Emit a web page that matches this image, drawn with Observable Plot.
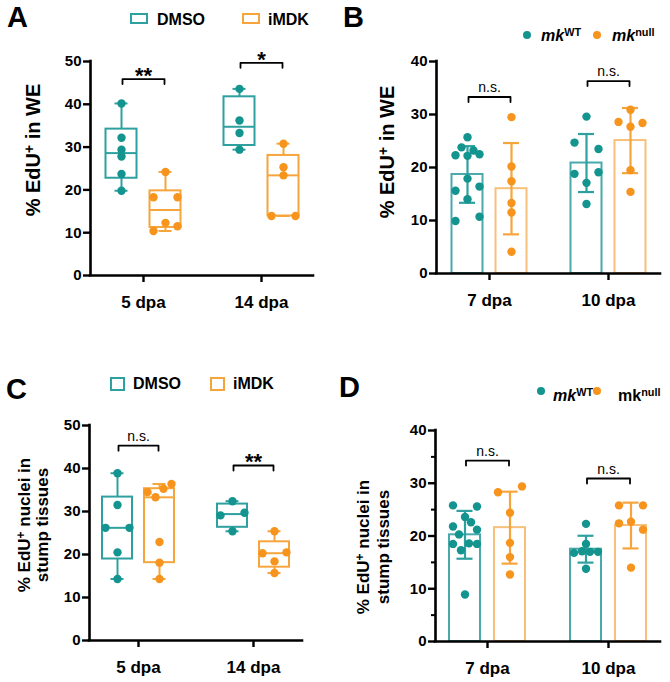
<!DOCTYPE html>
<html><head><meta charset="utf-8">
<script src="https://cdn.jsdelivr.net/npm/d3@7"></script>
<script src="https://cdn.jsdelivr.net/npm/@observablehq/plot@0.6"></script>
<style>
body{margin:0;background:#fff;}
#fig{position:relative;width:670px;height:682px;background:#fff;font-family:"Liberation Sans",Arial,sans-serif;color:#000;overflow:hidden}
.abs{position:absolute;white-space:nowrap}
.letter{font-size:29px;font-weight:bold;line-height:29px}
.ytitle{font-weight:bold;text-align:center;transform:translate(-50%,-50%) rotate(-90deg);}
.ytitle sup{font-size:0.7em;line-height:0;vertical-align:0.45em}
.leg{font-weight:bold;font-size:16px;line-height:16px}
.leg sup{font-size:0.68em;line-height:0;vertical-align:0.5em}
.sq{position:absolute;box-sizing:border-box;border:2px solid}
.dotk{position:absolute;width:8px;height:8px;border-radius:50%}
</style></head><body><div id="fig"></div>
<script>
// ---------- data ----------
const groupsAC = ["5 dpa", "14 dpa"];
const groupsBD = ["7 dpa", "10 dpa"];
const seriesAC = ["DMSO", "iMDK"];
const seriesBD = ["mkWT", "mknull"];
const yTicksAC = [0, 10, 20, 30, 40, 50];
const yTicksBD = [0, 10, 20, 30, 40];
const minorTicksD = [5, 15, 25, 35];

// A: % EdU+ in WE (box plots)
const A_DMSO_5 = [40.2, 32.2, 29.4, 27.8, 23.7, 19.8];
const A_IMDK_5 = [24.2, 18.3, 18.3, 10.4, 12.3, 11.5];
const A_DMSO_14 = [43.6, 36.2, 33.3, 29.4];
const A_IMDK_14 = [30.8, 25.3, 23.4, 13.9, 13.9];
// B: % EdU+ in WE (mean ± SD bars)
const B_WT_7 = [25.7, 22.3, 23.8, 22.2, 23.2, 22.5, 17.9, 15.6, 16.4, 14.0, 9.9, 10.7];
const B_NULL_7 = [29.5, 20.2, 17.4, 13.3, 11.5, 4.1];
const B_WT_10 = [29.6, 24.7, 23.5, 18.8, 19.1, 17.1, 13.1];
const B_NULL_10 = [30.9, 28.6, 27.7, 28.4, 19.5, 15.4];
// C: % EdU+ nuclei in stump tissues (box plots)
const C_DMSO_5 = [38.9, 31.5, 26.2, 26.2, 20.5, 14.3];
const C_IMDK_5 = [34.5, 33.3, 35.3, 36.4, 22.9, 18.1, 14.3];
const C_DMSO_14 = [32.4, 29.1, 29.7, 25.4];
const C_IMDK_14 = [25.4, 20.3, 20.5, 18.4, 15.7];
// D: % EdU+ nuclei in stump tissues (mean ± SD bars)
const D_WT_7 = [25.8, 25.6, 21.8, 20.3, 23.6, 22.6, 21.2, 18.5, 17.3, 18.6, 18.5, 8.9];
const D_NULL_7 = [28.3, 29.4, 24.4, 18.7, 16.0, 12.7];
const D_WT_10 = [22.3, 18.5, 16.8, 17.1, 17.0, 17.0, 13.8];
const D_NULL_10 = [25.8, 25.8, 22.4, 22.7, 21.2, 14.0];

// significance brackets
const sigA = [{group: "5 dpa", y: 45.9, label: "**"}, {group: "14 dpa", y: 49.7, label: "*"}];
const sigB = [{group: "7 dpa", y: 33.3, label: "n.s."}, {group: "10 dpa", y: 36.3, label: "n.s."}];
const sigC = [{group: "5 dpa", y: 45.3, label: "n.s."}, {group: "14 dpa", y: 40.7, label: "**"}];
const sigD = [{group: "7 dpa", y: 34.3, label: "n.s."}, {group: "10 dpa", y: 30.9, label: "n.s."}];

// ---------- style ----------
const COLORS = [
  {dot: "#13948f", line: "#2fa0a0", bar: "#4aa9ab"},
  {dot: "#f7941d", line: "#f6a53c", bar: "#f7c07a"}
];

function quant(s, p) { // (n+1) quantile method
  const n = s.length, h = (n + 1) * p;
  if (h <= 1) return s[0];
  if (h >= n) return s[n - 1];
  const lo = Math.floor(h);
  return s[lo - 1] + (h - lo) * (s[lo] - s[lo - 1]);
}
function jitterPx(vals, pyu, thr = 6.5, W = 24) {
  const idx = vals.map((v, i) => i).sort((a, b) => vals[a] - vals[b]);
  const rows = []; let cur = [idx[0]];
  for (let k = 1; k < idx.length; k++) {
    const i = idx[k], p = idx[k - 1];
    if ((vals[i] - vals[p]) * pyu < thr) cur.push(i); else { rows.push(cur); cur = [i]; }
  }
  rows.push(cur);
  const off = new Array(vals.length).fill(0);
  for (const r of rows) {
    if (r.length < 2) continue;
    r.sort((a, b) => a - b);
    r.forEach((i, j) => off[i] = -W / 2 + j * W / (r.length - 1));
  }
  return off;
}

const panels = [
  {kind: "box", groups: groupsAC, values: [[A_DMSO_5, A_IMDK_5], [A_DMSO_14, A_IMDK_14]], ymax: 50, yTicks: yTicksAC, minor: null, sig: sigA,
   L: {left: 0, top: 40, w: 335, h: 290, axisL: 90, axisR: 313, tick0: 143, tick1: 261, yTop: 61, yBot: 275, off: 22, halfW: 15.5, cap: 6.5}},
  {kind: "bar", groups: groupsBD, values: [[B_WT_7, B_NULL_7], [B_WT_10, B_NULL_10]], ymax: 40, yTicks: yTicksBD, minor: null, sig: sigB,
   L: {left: 335, top: 40, w: 335, h: 290, axisL: 436, axisR: 660, tick0: 489, tick1: 608, yTop: 61, yBot: 273, off: 22, halfW: 15.5, cap: 8}},
  {kind: "box", groups: groupsAC, values: [[C_DMSO_5, C_IMDK_5], [C_DMSO_14, C_IMDK_14]], ymax: 50, yTicks: yTicksAC, minor: null, sig: sigC,
   L: {left: 0, top: 400, w: 335, h: 282, axisL: 89, axisR: 302, tick0: 138, tick1: 253, yTop: 425, yBot: 640, off: 21, halfW: 15, cap: 6.5}},
  {kind: "bar", groups: groupsBD, values: [[D_WT_7, D_NULL_7], [D_WT_10, D_NULL_10]], ymax: 40, yTicks: yTicksBD, minor: minorTicksD, sig: sigD,
   L: {left: 335, top: 400, w: 335, h: 282, axisL: 435, axisR: 660, tick0: 487, tick1: 608, yTop: 430, yBot: 641, off: 22.5, halfW: 15.5, cap: 8}}
];

const fig = document.getElementById("fig");

function buildPanel(P) {
  const L = P.L;
  const unit = L.tick1 - L.tick0;
  const ml = L.axisL - L.left, mr = L.left + L.w - L.axisR, mt = L.yTop - L.top, mb = L.top + L.h - L.yBot;
  const xDomain = [-(L.tick0 - L.axisL) / unit, 1 + (L.axisR - L.tick1) / unit];
  const pyu = (L.yBot - L.yTop) / P.ymax;
  const ux = px => px / unit, uy = px => px / pyu;
  const recs = [], dots = [], lines = [], caps = [], meds = [];
  P.groups.forEach((g, gi) => {
    [0, 1].forEach(si => {
      const vals = P.values[gi][si];
      const c = gi + ux(si === 0 ? -L.off : L.off);
      const col = COLORS[si];
      const offs = jitterPx(vals, pyu);
      vals.forEach((v, i) => dots.push({x: c + ux(offs[i]), y: v, color: col.dot}));
      if (P.kind === "box") {
        const s = vals.slice().sort(d3.ascending);
        const q1 = quant(s, .25), md = quant(s, .5), q3 = quant(s, .75), lo = s[0], hi = s[s.length - 1];
        recs.push({x1: c - ux(L.halfW), x2: c + ux(L.halfW), y1: q1, y2: q3, color: col.line});
        meds.push({x1: c - ux(L.halfW), x2: c + ux(L.halfW), y: md, color: col.line});
        lines.push({x: c, y1: lo, y2: q1, color: col.line}, {x: c, y1: q3, y2: hi, color: col.line});
        caps.push({x1: c - ux(L.cap), x2: c + ux(L.cap), y: lo, color: col.line}, {x1: c - ux(L.cap), x2: c + ux(L.cap), y: hi, color: col.line});
      } else {
        const m = d3.mean(vals), sd = d3.deviation(vals);
        recs.push({x1: c - ux(L.halfW), x2: c + ux(L.halfW), y1: 0, y2: m, color: col.bar});
        lines.push({x: c, y1: m - sd, y2: m + sd, color: col.line});
        caps.push({x1: c - ux(L.cap), x2: c + ux(L.cap), y: m - sd, color: col.line}, {x1: c - ux(L.cap), x2: c + ux(L.cap), y: m + sd, color: col.line});
      }
    });
  });
  const sigLines = [], sigText = [];
  P.sig.forEach((s, k) => {
    const gi = P.groups.indexOf(s.group);
    const xa = gi + ux(-L.off + 1), xb = gi + ux(L.off - 1), t = uy(5);
    [[xa, s.y - t], [xa, s.y], [xb, s.y], [xb, s.y - t]].forEach(([x, y]) => sigLines.push({x, y, k}));
    sigText.push({x: gi, y: s.y, label: s.label});
  });

  const marks = [];
  if (P.kind === "box") {
    marks.push(Plot.rect(recs, {x1: "x1", x2: "x2", y1: "y1", y2: "y2", fill: "none", stroke: "color", strokeWidth: 2}));
    marks.push(Plot.ruleX(lines, {x: "x", y1: "y1", y2: "y2", stroke: "color", strokeWidth: 2}));
    marks.push(Plot.ruleY(caps, {x1: "x1", x2: "x2", y: "y", stroke: "color", strokeWidth: 2}));
    marks.push(Plot.ruleY(meds, {x1: "x1", x2: "x2", y: "y", stroke: "color", strokeWidth: 2}));
  } else {
    marks.push(Plot.rect(recs, {x1: "x1", x2: "x2", y1: "y1", y2: "y2", fill: "white", stroke: "color", strokeWidth: 2}));
    marks.push(Plot.ruleX(lines, {x: "x", y1: "y1", y2: "y2", stroke: "color", strokeWidth: 2.2}));
    marks.push(Plot.ruleY(caps, {x1: "x1", x2: "x2", y: "y", stroke: "color", strokeWidth: 2.2}));
  }
  marks.push(Plot.dot(dots, {x: "x", y: "y", r: 4.2, fill: "color", stroke: "none"}));
  marks.push(Plot.line(sigLines, {x: "x", y: "y", z: "k", stroke: "black", strokeWidth: 1.8}));
  marks.push(Plot.text(sigText.filter(d => d.label.includes("*")), {x: "x", y: "y", text: "label", fontSize: 22, fontWeight: "bold", lineAnchor: "bottom", dy: 4}));
  marks.push(Plot.text(sigText.filter(d => !d.label.includes("*")), {x: "x", y: "y", text: "label", fontSize: 14, fontWeight: "normal", lineAnchor: "bottom", dy: -5}));
  // axes
  marks.push(Plot.ruleX([xDomain[0]], {stroke: "black", strokeWidth: 2.6, strokeLinecap: "square"}));
  marks.push(Plot.ruleY([0], {stroke: "black", strokeWidth: 2.6, strokeLinecap: "square"}));
  marks.push(Plot.axisY(P.yTicks, {tickSize: 7, tickPadding: 2, strokeWidth: 2.4, fontSize: 15, fontWeight: "bold", label: null}));
  if (P.minor) marks.push(Plot.axisY(P.minor, {tickSize: 4, tickPadding: 0, strokeWidth: 2, tickFormat: () => "", label: null}));
  marks.push(Plot.axisX([0, 1], {tickSize: 7, tickPadding: 13, strokeWidth: 2.4, fontSize: 17, fontWeight: "bold", tickFormat: i => P.groups[i], label: null}));

  const svg = Plot.plot({
    width: L.w, height: L.h,
    marginLeft: ml, marginRight: mr, marginTop: mt, marginBottom: mb,
    x: {type: "linear", domain: xDomain, label: null},
    y: {domain: [0, P.ymax], label: null},
    color: {type: "identity"},
    style: {fontFamily: '"Liberation Sans", Arial, sans-serif', fontWeight: "bold", fontSize: "15px", color: "black", background: "transparent", overflow: "visible"},
    marks
  });
  svg.style.position = "absolute";
  svg.style.left = L.left + "px";
  svg.style.top = L.top + "px";
  fig.appendChild(svg);
}
panels.forEach(buildPanel);

// ---------- HTML labels ----------
function add(html, cls, css) {
  const d = document.createElement("div");
  d.className = "abs " + cls;
  d.innerHTML = html;
  Object.assign(d.style, css);
  fig.appendChild(d);
  return d;
}
// panel letters
add("A", "letter", {left: "7px", top: "3px"});
add("B", "letter", {left: "343px", top: "3px"});
add("C", "letter", {left: "6px", top: "375px"});
add("D", "letter", {left: "339px", top: "373px"});
// y titles
add("% EdU<sup>+</sup> in WE", "ytitle", {left: "33px", top: "150px", fontSize: "20px", lineHeight: "22px"});
add("% EdU<sup>+</sup> in WE", "ytitle", {left: "387px", top: "152px", fontSize: "20px", lineHeight: "22px"});
add("% EdU<sup>+</sup> nuclei in<br>stump tissues", "ytitle", {left: "34px", top: "525px", fontSize: "17px", lineHeight: "18px"});
add("% EdU<sup>+</sup> nuclei in<br>stump tissues", "ytitle", {left: "374px", top: "547px", fontSize: "17px", lineHeight: "20px"});
// legend A
add("", "sq", {left: "130px", top: "13px", width: "18px", height: "11px", borderColor: COLORS[0].line});
add(seriesAC[0], "leg", {left: "157px", top: "12px"});
add("", "sq", {left: "242px", top: "13px", width: "18px", height: "11px", borderColor: COLORS[1].line});
add(seriesAC[1], "leg", {left: "268px", top: "12px"});
// legend C
add("", "sq", {left: "110px", top: "377px", width: "15px", height: "14px", borderColor: COLORS[0].line});
add(seriesAC[0], "leg", {left: "133px", top: "376px"});
add("", "sq", {left: "210px", top: "377px", width: "15px", height: "14px", borderColor: COLORS[1].line});
add(seriesAC[1], "leg", {left: "233px", top: "376px"});
// legend B
add("", "dotk", {left: "523px", top: "31px", background: COLORS[0].dot});
add("<i>mk</i><sup>WT</sup>", "leg", {left: "541px", top: "28px"});
add("", "dotk", {left: "593px", top: "31px", background: COLORS[1].dot});
add("<i>mk</i><sup>null</sup>", "leg", {left: "612px", top: "28px"});
// legend D
add("", "dotk", {left: "537px", top: "387px", background: COLORS[0].dot});
add("<i>mk</i><sup>WT</sup>", "leg", {left: "553px", top: "388px"});
add("", "dotk", {left: "593px", top: "387px", background: COLORS[1].dot});
add("mk<sup>null</sup>", "leg", {left: "618px", top: "388px"});
</script></body></html>
